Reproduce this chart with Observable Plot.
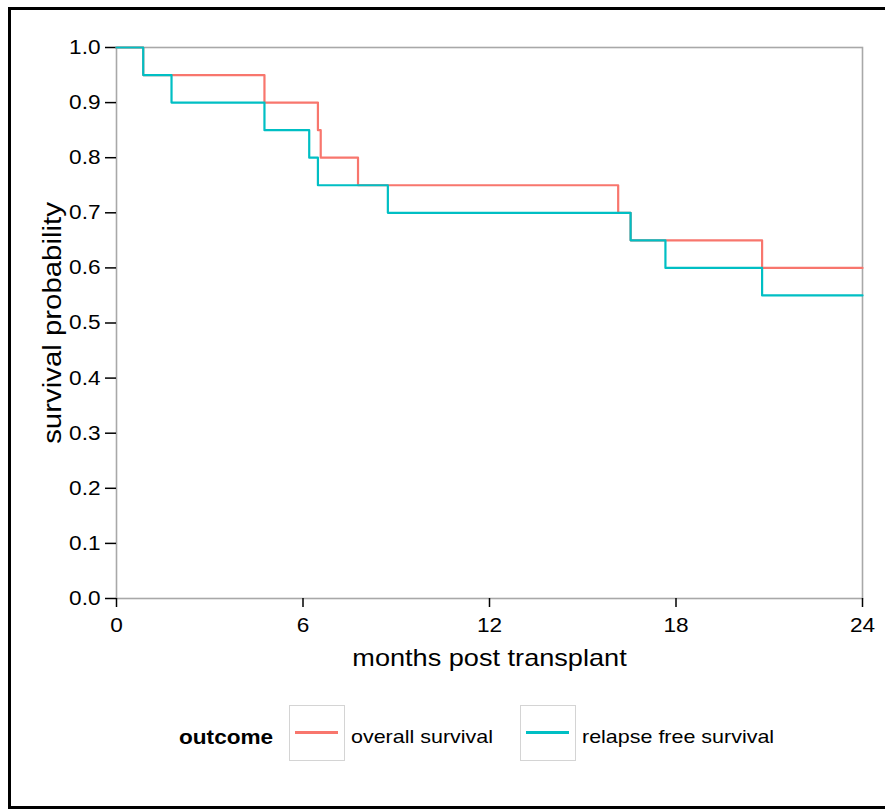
<!DOCTYPE html>
<html><head><meta charset="utf-8">
<script src="https://cdn.jsdelivr.net/npm/d3@7"></script>
<script src="https://cdn.jsdelivr.net/npm/@observablehq/plot@0.6"></script>
<style>
html,body{margin:0;padding:0;background:#fff;}
#wrap{position:relative;width:885px;height:809px;overflow:hidden;background:#fff;font-family:"Liberation Sans",Arial,sans-serif;}
#chart{position:absolute;left:0;top:0;}
#border{position:absolute;left:8px;top:7px;width:900px;height:802px;box-sizing:border-box;border:3px solid #000;pointer-events:none;}
.lg{position:absolute;font-size:19px;color:#000;line-height:20px;white-space:nowrap;transform:scaleX(1.13);transform-origin:0 50%;}
.box{position:absolute;box-sizing:border-box;border:1.5px solid #d4d4d4;background:#fff;}
.key{position:absolute;height:2.5px;}
</style>
</head><body>
<div id="wrap">
  <div id="chart"></div>
  <div id="legend"></div>
  <div id="border"></div>
</div>
<script>
// Kaplan-Meier step data (months, survival probability)
const osTime   = [0, 0.86, 4.76, 6.48, 6.57, 7.77, 16.14, 16.54, 20.77, 24];
const osSurv   = [1.00, 0.95, 0.90, 0.85, 0.80, 0.75, 0.70, 0.65, 0.60, 0.60];
const rfsTime  = [0, 0.86, 1.77, 4.76, 6.20, 6.48, 8.73, 16.54, 17.66, 20.77, 24];
const rfsSurv  = [1.00, 0.95, 0.90, 0.85, 0.80, 0.75, 0.70, 0.65, 0.60, 0.55, 0.55];
const outcomes = ["overall survival", "relapse free survival"];
const colors   = ["#F8766D", "#00BFC4"];
const xTicks   = [0, 6, 12, 18, 24];
const yTicks   = [0, 0.1, 0.2, 0.3, 0.4, 0.5, 0.6, 0.7, 0.8, 0.9, 1.0];

const data = [
  ...osTime.map((t, i) => ({time: t, surv: osSurv[i], outcome: outcomes[0]})),
  ...rfsTime.map((t, i) => ({time: t, surv: rfsSurv[i], outcome: outcomes[1]}))
];

const chart = Plot.plot({
  width: 885,
  height: 690,
  marginLeft: 116,
  marginRight: 23,
  marginTop: 47,
  marginBottom: 92,
  style: {fontFamily: '"Liberation Sans", Arial, sans-serif', fontSize: "20px", color: "#000", background: "#fff"},
  x: {domain: [0, 24]},
  y: {domain: [0, 1]},
  color: {domain: outcomes, range: colors},
  marks: [
    Plot.frame({stroke: "#a8a8a8", strokeWidth: 1.6}),
    Plot.axisX({ticks: xTicks, tickSize: 9, tickPadding: 10, tickFormat: d => String(d), label: null, stroke: "#000", strokeWidth: 1.5, fontSize: 20}),
    Plot.axisY({ticks: yTicks, tickSize: 11, tickPadding: 5, tickFormat: d3.format(".1f"), label: null, stroke: "#000", strokeWidth: 1.5, fontSize: 20}),
    Plot.line(data, {x: "time", y: "surv", stroke: "outcome", z: "outcome", curve: "step-after", strokeWidth: 2.2}),
    Plot.text(["months post transplant"], {frameAnchor: "bottom", dy: 60, text: d => d, fontSize: 24, textAnchor: "middle", lineAnchor: "middle"}),
    Plot.text(["survival probability"], {frameAnchor: "left", dx: -64, rotate: -90, text: d => d, fontSize: 26, textAnchor: "middle", lineAnchor: "middle"})
  ]
});
document.getElementById("chart").appendChild(chart);

// widen glyphs horizontally to match the reference's wider text
chart.querySelectorAll("text").forEach(t => {
  const L = t.getComputedTextLength();
  if (L > 0) {
    t.setAttribute("textLength", (L * 1.13).toFixed(2));
    t.setAttribute("lengthAdjust", "spacingAndGlyphs");
  }
});

// Legend (HTML)
const legend = document.getElementById("legend");
const title = document.createElement("div");
title.className = "lg";
title.style.cssText = "left:179px;top:727px;font-weight:bold;font-size:20px;";
title.textContent = "outcome";
legend.appendChild(title);
const boxX = [289, 520];
const textX = [351, 582];
outcomes.forEach((o, i) => {
  const b = document.createElement("div");
  b.className = "box";
  b.style.cssText = `left:${boxX[i]}px;top:705px;width:56px;height:56px;`;
  legend.appendChild(b);
  const k = document.createElement("div");
  k.className = "key";
  k.style.cssText = `left:${boxX[i] + 6}px;top:731px;width:43px;background:${colors[i]};`;
  legend.appendChild(k);
  const t = document.createElement("div");
  t.className = "lg";
  t.style.cssText = `left:${textX[i]}px;top:727px;`;
  t.textContent = o;
  legend.appendChild(t);
});
</script>
</body></html>
